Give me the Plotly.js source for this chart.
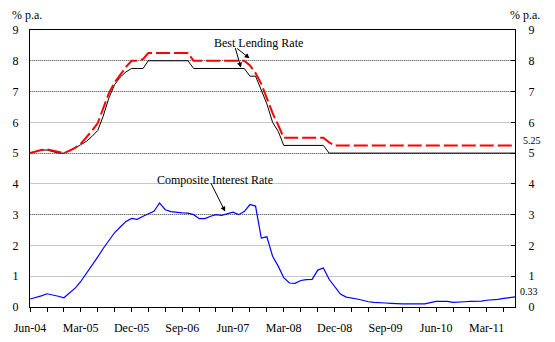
<!DOCTYPE html>
<html>
<head>
<meta charset="utf-8">
<script src="https://cdn.plot.ly/plotly-3.0.1.min.js"></script>
<style>
html,body{margin:0;padding:0;background:#fff;}
#chart{width:555px;height:342px;}
</style>
</head>
<body>
<div id="chart"></div>
<script>
var months = [
'2004-06','2004-07','2004-08','2004-09','2004-10','2004-11','2004-12',
'2005-01','2005-02','2005-03','2005-04','2005-05','2005-06','2005-07','2005-08','2005-09','2005-10','2005-11','2005-12',
'2006-01','2006-02','2006-03','2006-04','2006-05','2006-06','2006-07','2006-08','2006-09','2006-10','2006-11','2006-12',
'2007-01','2007-02','2007-03','2007-04','2007-05','2007-06','2007-07','2007-08','2007-09','2007-10','2007-11','2007-12',
'2008-01','2008-02','2008-03','2008-04','2008-05','2008-06','2008-07','2008-08','2008-09','2008-10','2008-11','2008-12',
'2009-01','2009-02','2009-03','2009-04','2009-05','2009-06','2009-07','2009-08','2009-09','2009-10','2009-11','2009-12',
'2010-01','2010-02','2010-03','2010-04','2010-05','2010-06','2010-07','2010-08','2010-09','2010-10','2010-11','2010-12',
'2011-01','2011-02','2011-03','2011-04','2011-05','2011-06','2011-07','2011-08'
];

var bestLendingLow = [
5.0,5.05,5.1,5.1,5.05,5.0,5.0,
5.08,5.17,5.27,5.38,5.54,5.73,6.2,6.8,7.23,7.47,7.64,7.75,
7.75,7.75,8.0,8.0,8.0,8.0,8.0,8.0,8.0,8.0,7.75,7.75,
7.75,7.75,7.75,7.75,7.75,7.75,7.75,7.75,7.5,7.5,7.05,6.6,
6.0,5.7,5.25,5.25,5.25,5.25,5.25,5.25,5.25,5.25,5.0,5.0,
5.0,5.0,5.0,5.0,5.0,5.0,5.0,5.0,5.0,5.0,5.0,5.0,
5.0,5.0,5.0,5.0,5.0,5.0,5.0,5.0,5.0,5.0,5.0,5.0,
5.0,5.0,5.0,5.0,5.0,5.0,5.0,5.0
];

var bestLendingHigh = [
5.0,5.05,5.1,5.12,5.08,5.02,5.0,
5.08,5.18,5.3,5.5,5.72,5.97,6.45,6.95,7.3,7.55,7.8,8.0,
8.0,8.05,8.25,8.25,8.25,8.25,8.25,8.25,8.25,8.25,8.0,8.0,
8.0,8.0,8.0,8.0,8.0,8.0,8.0,8.0,7.85,7.6,7.25,6.8,
6.3,5.9,5.5,5.5,5.5,5.5,5.5,5.5,5.5,5.5,5.35,5.25,
5.25,5.25,5.25,5.25,5.25,5.25,5.25,5.25,5.25,5.25,5.25,5.25,
5.25,5.25,5.25,5.25,5.25,5.25,5.25,5.25,5.25,5.25,5.25,5.25,
5.25,5.25,5.25,5.25,5.25,5.25,5.25,5.25
];

var compositeRate = [
0.26,0.3,0.36,0.43,0.4,0.35,0.3,
0.45,0.62,0.82,1.08,1.35,1.62,1.9,2.17,2.42,2.6,2.78,2.88,
2.85,2.95,3.03,3.11,3.38,3.16,3.1,3.07,3.06,3.05,3.0,2.87,
2.87,2.95,3.0,2.98,3.02,3.08,3.0,3.1,3.33,3.28,2.24,2.28,
1.65,1.32,0.95,0.78,0.77,0.86,0.89,0.9,1.2,1.27,0.9,0.68,
0.42,0.32,0.3,0.26,0.22,0.17,0.15,0.13,0.13,0.12,0.1,0.1,
0.1,0.1,0.1,0.1,0.14,0.18,0.18,0.18,0.15,0.15,0.17,0.18,
0.18,0.19,0.22,0.23,0.25,0.28,0.3,0.33
];

var yTicks = [0,1,2,3,4,5,6,7,8,9];
var dottedGrid = [3,5,7,8];

var serif = 'Liberation Serif';

var traces = [
  {x: months, y: bestLendingLow, type:'scatter', mode:'lines', yaxis:'y',
   line:{color:'#000000', width:1}, hoverinfo:'skip'},
  {x: months, y: bestLendingHigh, type:'scatter', mode:'lines', yaxis:'y2',
   line:{color:'#ff0000', width:2, dash:'14px,4px'}, hoverinfo:'skip'},
  {x: months, y: compositeRate, type:'scatter', mode:'lines', yaxis:'y3',
   line:{color:'#0000ff', width:1.2}, hoverinfo:'skip'}
];

var layout = {
  width:555, height:342,
  margin:{l:30, r:40, t:30, b:35},
  paper_bgcolor:'#ffffff', plot_bgcolor:'#ffffff',
  showlegend:false,
  font:{family:serif, size:12, color:'#000'},
  xaxis:{
    type:'date',
    range:['2004-06-01','2011-08-01'],
    tick0:'2004-06-01', dtick:'M9', tickformat:'%b-%y',
    ticks:'outside', ticklen:4, tickcolor:'#000',
    minor:{tick0:'2004-06-01', dtick:'M3', ticks:'outside', ticklen:4, tickcolor:'#000', showgrid:false},
    showline:true, linecolor:'#000', linewidth:1, mirror:true,
    showgrid:false, zeroline:false,
    ticklabelstandoff:6,
    tickfont:{family:serif, size:12, color:'#000'}
  },
  yaxis:{
    range:[0,9], autorange:false,
    tickvals:yTicks, ticks:'',
    showgrid:true, gridcolor:'#c8c8c8', gridwidth:1,
    zeroline:false,
    showline:true, linecolor:'#000', linewidth:1,
    ticklabelstandoff:8,
    tickfont:{family:serif, size:12, color:'#000'}
  },
  yaxis2:{
    overlaying:'y', side:'right', anchor:'x',
    range:[0,9], autorange:false,
    tickvals:yTicks, ticks:'inside', ticklen:4, tickcolor:'#000',
    showgrid:false, zeroline:false,
    showline:true, linecolor:'#000', linewidth:1,
    ticklabelstandoff:10,
    tickfont:{family:serif, size:12, color:'#000'}
  },
  yaxis3:{
    overlaying:'y', anchor:'x',
    range:[0,9], autorange:false,
    tickvals:dottedGrid, showticklabels:false, ticks:'',
    showgrid:true, gridcolor:'#6e6e6e', gridwidth:1, griddash:'1px,1px',
    zeroline:false, showline:false
  },
  annotations:[
    {xref:'paper', yref:'paper', x:0, y:1, xanchor:'center', yanchor:'bottom',
     xshift:-3, yshift:6, text:'% p.a.', showarrow:false,
     font:{family:serif, size:12, color:'#000'}},
    {xref:'paper', yref:'paper', x:1, y:1, xanchor:'center', yanchor:'bottom',
     xshift:10, yshift:6, text:'% p.a.', showarrow:false,
     font:{family:serif, size:12, color:'#000'}},
    {xref:'paper', yref:'y', x:1, y:5.42, xanchor:'left', yanchor:'middle',
     xshift:6, text:'5.25', showarrow:false,
     font:{family:serif, size:10, color:'#000'}},
    {xref:'paper', yref:'y', x:1, y:0.5, xanchor:'left', yanchor:'middle',
     xshift:3, text:'0.33', showarrow:false,
     font:{family:serif, size:10, color:'#000'}},
    {xref:'x', yref:'y', x:'2007-10-16', y:8.58, text:'Best Lending Rate', showarrow:false,
     xanchor:'center', yanchor:'middle',
     font:{family:serif, size:12, color:'#000'}},
    {xref:'x', yref:'y', x:'2007-08-30', y:8.08, text:'', showarrow:true,
     ax:-14, ay:-11, arrowhead:2, arrowsize:1, arrowwidth:1, arrowcolor:'#000'},
    {xref:'x', yref:'y', x:'2007-07-14', y:7.78, text:'', showarrow:true,
     ax:-6, ay:-21, arrowhead:2, arrowsize:1, arrowwidth:1, arrowcolor:'#000'},
    {xref:'x', yref:'y', x:'2007-02-25', y:4.13, text:'Composite Interest Rate', showarrow:false,
     xanchor:'center', yanchor:'middle',
     font:{family:serif, size:12, color:'#000'}},
    {xref:'x', yref:'y', x:'2007-04-20', y:3.1, text:'', showarrow:true,
     ax:-15, ay:-30, arrowhead:2, arrowsize:1, arrowwidth:1, arrowcolor:'#000'}
  ]
};

Plotly.newPlot('chart', traces, layout, {displayModeBar:false, staticPlot:true});
</script>
</body>
</html>
